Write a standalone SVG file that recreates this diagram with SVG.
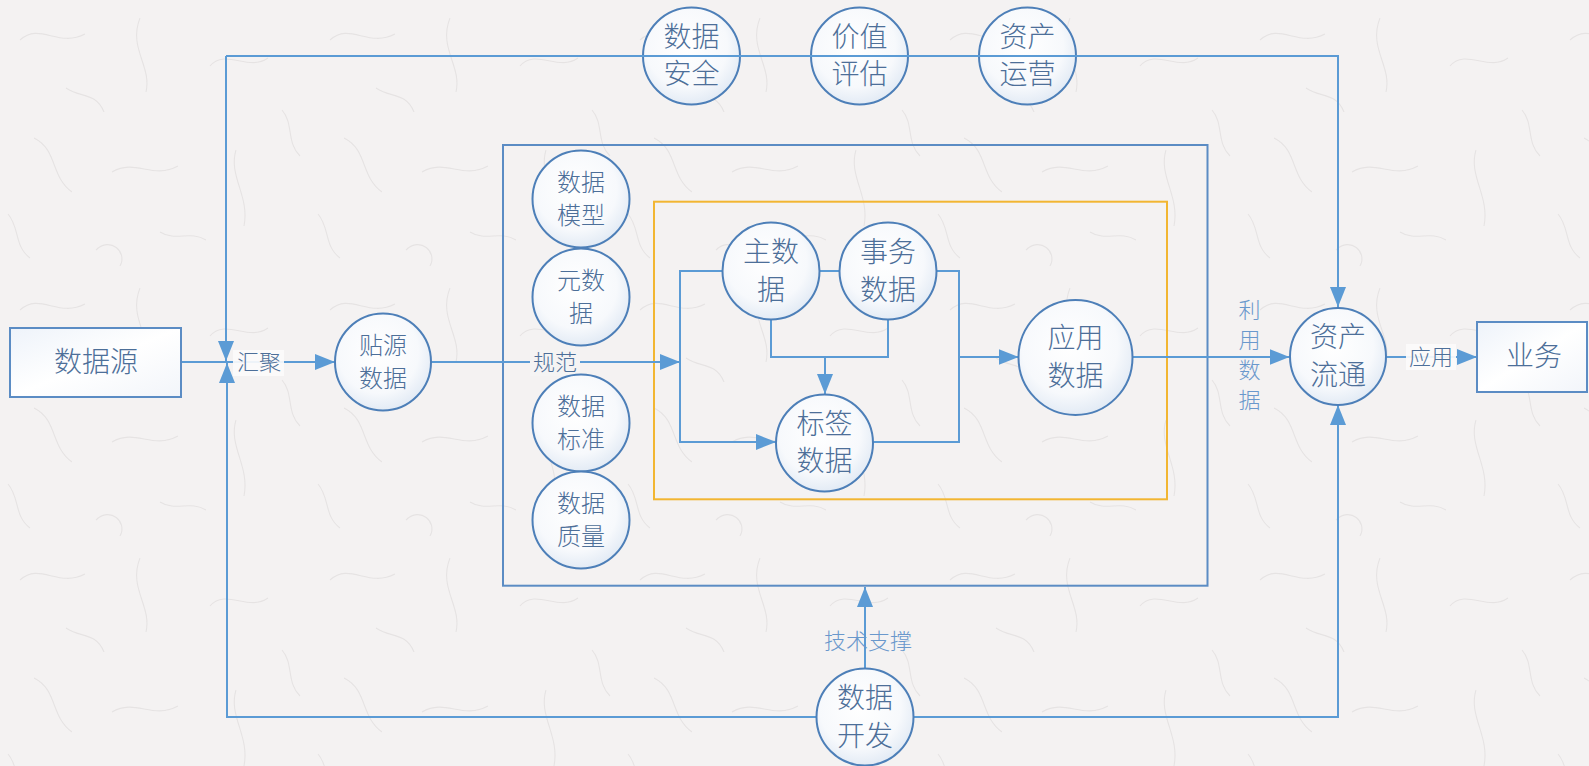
<svg xmlns="http://www.w3.org/2000/svg" width="1589" height="766" viewBox="0 0 1589 766">
<defs>
<style>
.ln{fill:none;stroke:#5b9bd5;stroke-width:2}
.or{fill:none;stroke:#f2b632;stroke-width:2}
.fr{fill:none;stroke:#5b8cc4;stroke-width:2}
.cir{fill:url(#cg);stroke:#4d7fb8;stroke-width:2}
.box{fill:url(#bg);stroke:#5b8cc4;stroke-width:2}
.t{font-family:"Noto Sans CJK SC","Noto Sans CJK JP",sans-serif;font-weight:300;fill:#4d6f99;text-anchor:middle}
.big{font-size:28px}
.sm{font-size:24px}
.lb{font-size:22px}
.lt{fill:#6a98cc}
.lbg{fill:#fbfbfb;opacity:0.92}
</style>
<radialGradient id="cg" cx="0.45" cy="0.4" r="0.6">
<stop offset="0" stop-color="#ffffff"/>
<stop offset="0.7" stop-color="#f7f9fc"/>
<stop offset="1" stop-color="#e3ebf5"/>
</radialGradient>
<linearGradient id="bg" x1="0" y1="0" x2="1" y2="1">
<stop offset="0" stop-color="#eef3fa"/>
<stop offset="0.5" stop-color="#ffffff"/>
<stop offset="1" stop-color="#f2f5fa"/>
</linearGradient>
<marker id="arr" viewBox="0 0 20 16" refX="20" refY="8" markerWidth="20" markerHeight="16" orient="auto" markerUnits="userSpaceOnUse">
<path d="M0,0 L20,8 L0,16 Z" fill="#5b9bd5"/>
</marker>
<pattern id="paper" width="310" height="270" patternUnits="userSpaceOnUse">
<rect width="310" height="270" fill="#f4f2f2"/>
<g fill="none" stroke="#dcd9d9" stroke-width="1.1" opacity="0.6">
<path d="M20,40 C40,22 58,48 85,34"/>
<path d="M140,18 C128,48 152,66 146,92"/>
<path d="M210,66 C226,48 248,72 268,58"/>
<path d="M34,138 C58,150 50,176 72,192"/>
<path d="M112,172 C136,158 152,180 178,166"/>
<path d="M236,150 C228,176 250,196 244,226"/>
<path d="M66,88 C80,98 96,92 104,112"/>
<path d="M160,232 C176,242 190,230 206,240"/>
<path d="M282,110 C294,124 286,142 300,156"/>
<path d="M8,214 C20,228 14,246 30,258"/>
<path d="M96,250 C110,236 128,252 120,266"/>
</g>
</pattern>
</defs>
<rect width="1589" height="766" fill="url(#paper)"/>

<g id="frames">
<rect class="fr" x="503" y="145" width="704.5" height="440.7"/>
<rect class="or" x="654" y="201.7" width="513" height="297.6"/>
</g>

<g id="n-anquan"><ellipse class="cir" cx="691.5" cy="56" rx="48.5" ry="48.5"/><text class="t big" x="691.5" y="47">数据</text><text class="t big" x="691.5" y="84">安全</text></g>
<g id="n-jiazhi"><ellipse class="cir" cx="859.5" cy="56" rx="48.5" ry="48.5"/><text class="t big" x="859.5" y="47">价值</text><text class="t big" x="859.5" y="84">评估</text></g>
<g id="n-yunying"><ellipse class="cir" cx="1027.5" cy="56" rx="48.5" ry="48.5"/><text class="t big" x="1027.5" y="47">资产</text><text class="t big" x="1027.5" y="84">运营</text></g>

<g id="connectors">
<path class="ln" d="M226,56 H1338 V307" marker-end="url(#arr)"/>
<path class="ln" d="M226,56 V361" marker-end="url(#arr)"/>
<path class="ln" d="M865,717 H227 V363" marker-end="url(#arr)"/>
<path class="ln" d="M865,717 H1338 V405" marker-end="url(#arr)"/>
<path class="ln" d="M865,669 V587" marker-end="url(#arr)"/>
<path class="ln" d="M181,362 H335" marker-end="url(#arr)"/>
<path class="ln" d="M431,362 H680" marker-end="url(#arr)"/>
<path class="ln" d="M722.5,271 H680 V442 H776" marker-end="url(#arr)"/>
<path class="ln" d="M819.5,271 H839.5"/>
<path class="ln" d="M936.5,271 H959 V442 H873"/>
<path class="ln" d="M959,357 H1018.5" marker-end="url(#arr)"/>
<path class="ln" d="M771,319.5 V357 H888 V319.5"/>
<path class="ln" d="M825,357 V394" marker-end="url(#arr)"/>
<path class="ln" d="M1132.5,357 H1289.5" marker-end="url(#arr)"/>
<path class="ln" d="M1386,357 H1477" marker-end="url(#arr)"/>
<rect class="lbg" x="233" y="350" width="51" height="26"/>
<text class="t lb" x="259" y="370">汇聚</text>
<rect x="530" y="350" width="50" height="26" fill="#f5f4f4"/>
<text class="t lb" x="555" y="370">规范</text>
<text class="t lb lt" x="868" y="649">技术支撑</text>
<text class="t lb lt" x="1249.5" y="318">利</text>
<text class="t lb lt" x="1249.5" y="348">用</text>
<text class="t lb lt" x="1249.5" y="378">数</text>
<text class="t lb lt" x="1249.5" y="408">据</text>
<rect class="lbg" x="1406" y="344" width="50" height="26"/>
<text class="t lb" x="1431" y="365">应用</text>
</g>

<g id="n-shujuyuan"><rect class="box" x="10" y="328" width="171" height="69"/><text class="t big" x="96" y="372">数据源</text></g>
<g id="n-tieyuan"><ellipse class="cir" cx="383" cy="362" rx="48" ry="48.5"/><text class="t sm" x="383" y="354">贴源</text><text class="t sm" x="383" y="387">数据</text></g>
<g id="n-moxing"><ellipse class="cir" cx="581" cy="199" rx="48.5" ry="48.5"/><text class="t sm" x="581" y="191">数据</text><text class="t sm" x="581" y="224">模型</text></g>
<g id="n-yuanshuju"><ellipse class="cir" cx="581" cy="297" rx="48.5" ry="48.5"/><text class="t sm" x="581" y="289">元数</text><text class="t sm" x="581" y="322">据</text></g>
<g id="n-biaozhun"><ellipse class="cir" cx="581" cy="423" rx="48.5" ry="48.5"/><text class="t sm" x="581" y="415">数据</text><text class="t sm" x="581" y="448">标准</text></g>
<g id="n-zhiliang"><ellipse class="cir" cx="581" cy="520" rx="48.5" ry="48.5"/><text class="t sm" x="581" y="512">数据</text><text class="t sm" x="581" y="545">质量</text></g>
<g id="n-zhushuju"><ellipse class="cir" cx="771" cy="271" rx="48.5" ry="48.5"/><text class="t big" x="771" y="262">主数</text><text class="t big" x="771" y="300">据</text></g>
<g id="n-shiwu"><ellipse class="cir" cx="888" cy="271" rx="48.5" ry="48.5"/><text class="t big" x="888" y="262">事务</text><text class="t big" x="888" y="300">数据</text></g>
<g id="n-biaoqian"><ellipse class="cir" cx="824.5" cy="443" rx="48.5" ry="48.5"/><text class="t big" x="824.5" y="434">标签</text><text class="t big" x="824.5" y="471">数据</text></g>
<g id="n-yingyong"><ellipse class="cir" cx="1075.5" cy="357.5" rx="57" ry="57.5"/><text class="t big" x="1075.5" y="348">应用</text><text class="t big" x="1075.5" y="386">数据</text></g>
<g id="n-liutong"><ellipse class="cir" cx="1338" cy="356.5" rx="48" ry="48.5"/><text class="t big" x="1338" y="347">资产</text><text class="t big" x="1338" y="385">流通</text></g>
<g id="n-yewu"><rect class="box" x="1477" y="322" width="110" height="70"/><text class="t big" x="1534" y="366">业务</text></g>
<g id="n-kaifa"><ellipse class="cir" cx="865" cy="717" rx="48.5" ry="48.5"/><text class="t big" x="865" y="708">数据</text><text class="t big" x="865" y="746">开发</text></g>
</svg>
